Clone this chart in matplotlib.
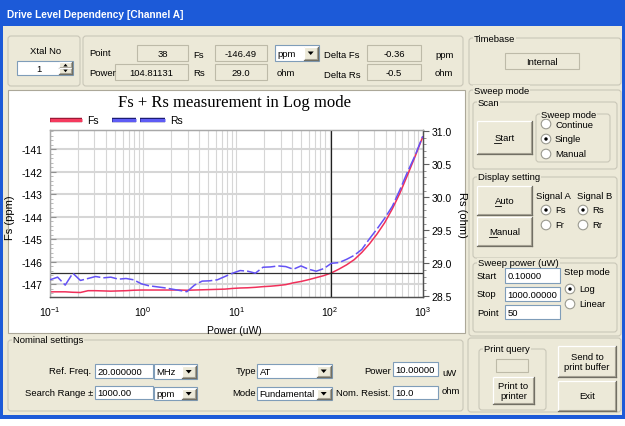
import matplotlib
matplotlib.use("Agg")
import matplotlib.pyplot as plt
import matplotlib.patheffects as pe
import numpy as np
from matplotlib.patches import Circle, FancyBboxPatch, Polygon, Rectangle
from matplotlib.ticker import FormatStrFormatter, LogLocator, MultipleLocator, NullFormatter

plt.rcParams['font.family'] = ['Liberation Sans', 'DejaVu Sans']
plt.rcParams['axes.unicode_minus'] = False
plt.rcParams['mathtext.fontset'] = 'custom'
plt.rcParams['mathtext.rm'] = 'Liberation Sans'
plt.rcParams['mathtext.it'] = 'Liberation Sans:italic'
plt.rcParams['mathtext.default'] = 'regular'

# --- sweep settings (Sweep power panel) ---
SWEEP_START = 0.1
SWEEP_STOP = 1000.0
SWEEP_POINTS = 50

# --- measured series, one value per sweep point ---
fs_ppm = [
    -147.33, -147.33, -147.33, -147.35, -147.36, -147.28, -147.28, -147.29, -147.30, -147.29,
    -147.28, -147.26, -147.25, -147.25, -147.25, -147.25, -147.25, -147.25, -147.26, -147.25,
    -147.24, -147.23, -147.22, -147.21, -147.18, -147.16, -147.15, -147.13, -147.10, -147.08,
    -147.05, -147.01, -146.93, -146.87, -146.79, -146.70, -146.61, -146.49, -146.32, -146.13,
    -145.90, -145.58, -145.20, -144.76, -144.26, -143.65, -142.95, -142.15, -141.32, -140.45,
]
rs_ohm = [
    28.75, 28.79, 28.67, 28.85, 28.74, 28.77, 28.80, 28.78, 28.79, 28.76,
    28.77, 28.75, 28.69, 28.66, 28.645, 28.63, 28.61, 28.59, 28.57, 28.67,
    28.73, 28.735, 28.75, 28.80, 28.85, 28.89, 28.88, 28.85, 28.94, 28.945,
    28.96, 28.95, 28.91, 28.96, 28.91, 28.88, 28.92, 29.00, 29.01, 29.06,
    29.12, 29.21, 29.37, 29.52, 29.68, 29.86, 30.11, 30.38, 30.63, 30.92,
]
power_uw = np.logspace(np.log10(SWEEP_START), np.log10(SWEEP_STOP), SWEEP_POINTS)

# cursor readout
cursor_point = 38
cursor_power = 104.81131
cursor_fs = -146.49
cursor_rs = 29.0
delta_fs = -0.36
delta_rs = -0.5

fs_ticks = [-141, -142, -143, -144, -145, -146, -147]
rs_ticks = [28.5, 29.0, 29.5, 30.0, 30.5, 31.0]
power_ticks = [0.1, 1, 10, 100, 1000]
power_ticklabels = ['$10^{-1}$', '$10^{0}$', '$10^{1}$', '$10^{2}$', '$10^{3}$']

# --- colours / sizes ---
BG = '#ECE9D8'
ETCH = '#C9C7B8'
FIELD_EDGE = '#7F9DB9'
READ_EDGE = '#BDBAA8'
DARK = '#716F64'
SHADE = '#ACA899'
FS = 6.8
W, H = 625, 427

fig = plt.figure(figsize=(6.25, 4.27), dpi=100)
ui = fig.add_axes([0, 0, 1, 1])
ui.axis('off')
renderer = fig.canvas.get_renderer()


def text_width(s, size=FS):
    t = ui.text(0, 0, s, fontsize=size)
    w = t.get_window_extent(renderer).width
    t.remove()
    return w


def label(x, y, s, ha='left'):
    ui.text(x, y, s, ha=ha, va='center', fontsize=FS)


def group(x0, y0, x1, y1, title=None):
    ui.add_patch(FancyBboxPatch((x0, y0), x1 - x0, y1 - y0,
                                boxstyle='round,pad=0,rounding_size=3',
                                fc='none', ec=ETCH, lw=0.8))
    if title:
        ui.text(x0 + 5, y0, title, ha='left', va='center', fontsize=FS,
                bbox=dict(fc=BG, ec='none', pad=0.6))


def field(x0, y0, x1, y1, s='', ha='left', fc='white', ec=FIELD_EDGE):
    ui.add_patch(Rectangle((x0, y0), x1 - x0, y1 - y0, fc=fc, ec=ec, lw=0.8))
    tx = {'left': x0 + 2.5, 'center': (x0 + x1) / 2, 'right': x1 - 3}[ha]
    ui.text(tx, (y0 + y1) / 2 + 0.5, s, ha=ha, va='center', fontsize=FS)


def readout(x0, y0, x1, y1, s):
    field(x0, y0, x1, y1, s, ha='center', fc=BG, ec=READ_EDGE)


def bevel(x0, y0, x1, y1):
    ui.add_patch(Rectangle((x0, y0), x1 - x0, y1 - y0, fc=BG, ec='none'))
    ui.plot([x0, x1], [y0, y0], color='white', lw=0.9, solid_capstyle='butt')
    ui.plot([x0, x0], [y0, y1], color='white', lw=0.9, solid_capstyle='butt')
    ui.plot([x0 + 1, x1 - 1], [y1 - 1, y1 - 1], color=SHADE, lw=0.8)
    ui.plot([x1 - 1, x1 - 1], [y0 + 1, y1 - 1], color=SHADE, lw=0.8)
    ui.plot([x0, x1], [y1, y1], color=DARK, lw=0.9)
    ui.plot([x1, x1], [y0, y1], color=DARK, lw=0.9)


def button(x0, y0, x1, y1, s, underline=False):
    bevel(x0, y0, x1, y1)
    cx, cy = (x0 + x1) / 2, (y0 + y1) / 2
    ui.text(cx, cy, s, ha='center', va='center', fontsize=FS, linespacing=1.25,
            multialignment='center')
    if underline:
        w = text_width(s)
        w1 = text_width(s[0])
        ui.plot([cx - w / 2, cx - w / 2 + w1], [cy + 5, cy + 5], color='black', lw=0.6)


def arrow(cx, cy, up=False, size=3.0):
    d = -1 if up else 1
    ui.add_patch(Polygon([[cx - size, cy - d * 1.5], [cx + size, cy - d * 1.5],
                          [cx, cy + d * (size - 1.0)]], closed=True, fc='black', ec='none'))


def dropdown(x0, y0, x1, y1, s):
    field(x0, y0, x1, y1, s)
    bevel(x1 - 15, y0 + 1.5, x1 - 1.5, y1 - 1.5)
    arrow(x1 - 8.3, (y0 + y1) / 2)


def radio(x, y, s, on=False):
    ui.add_patch(Circle((x, y), 4.8, fc='white', ec='#9A9A90', lw=0.8))
    if on:
        ui.add_patch(Circle((x, y), 1.7, fc='black', ec='none'))
    ui.text(x + 9, y, s, ha='left', va='center', fontsize=FS)


# --- window frame ---
ui.add_patch(Rectangle((0, 0), W, H, fc='white', ec='none'))
ui.add_patch(Rectangle((0, 0), W, 420, fc='#1C5AD8', ec='none'))
ui.add_patch(Rectangle((3, 27), W - 6, 389, fc=BG, ec='none'))
grad = np.linspace(0, 1, 28)[:, None, None]
top_c = np.array([0.36, 0.62, 0.98])
bot_c = np.array([0.05, 0.33, 0.86])
bar = np.clip(top_c + (bot_c - top_c) * np.sqrt(grad), 0, 1) * np.ones((1, 4, 1))
ui.imshow(bar, extent=(0, W, 27, 0), aspect='auto', interpolation='bilinear', zorder=0.5)
ui.text(7, 15, 'Drive Level Dependency [Channel A]', color='white', fontweight='bold',
        fontsize=7.3, ha='left', va='center')

# --- top readouts ---
group(8, 37, 80, 87)
label(46, 51, 'Xtal No', ha='center')
field(17, 62, 73, 76, '')
ui.text(39, 69.5, '1', ha='center', va='center', fontsize=FS)
bevel(59, 63, 72, 69)
bevel(59, 69, 72, 75)
arrow(65.5, 66, up=True, size=2.2)
arrow(65.5, 72, size=2.2)

group(83, 37, 463, 87)
label(89, 54, 'Point')
readout(137, 46, 188, 62, f'{cursor_point}')
label(193, 55, 'Fs')
readout(215, 46, 267, 62, f'{cursor_fs:.2f}')
dropdown(275, 46, 319, 62, 'ppm')
label(324, 55, 'Delta Fs')
readout(367, 46, 421, 62, f'{delta_fs:.2f}')
label(435, 56, 'ppm')
label(89, 73, 'Power')
readout(115, 65, 188, 81, f'{cursor_power:.5f}')
label(193, 74, 'Rs')
readout(215, 65, 267, 81, f'{cursor_rs:.1f}')
label(277, 73, 'ohm')
label(324, 75, 'Delta Rs')
readout(367, 65, 421, 81, f'{delta_rs:.1f}')
label(435, 74, 'ohm')

# --- chart panel ---
ui.add_patch(Rectangle((8, 91), 457, 243, fc='white', ec=SHADE, lw=0.8))
ui.text(235, 103, 'Fs + Rs measurement in Log mode', family='Liberation Serif',
        fontsize=12, ha='center', va='center')
ui.plot([50, 82], [121, 121], color='#F53A5E', lw=2.2, solid_capstyle='butt',
        path_effects=[pe.Stroke(linewidth=3.2, foreground='#9A1834'), pe.Normal()])
ui.text(87, 121, 'Fs', ha='left', va='center', fontsize=7.5)
for xa, xb in [(112, 136), (140, 165)]:
    ui.plot([xa, xb], [121, 121], color='#5E5CF5', lw=2.2, solid_capstyle='butt',
            path_effects=[pe.Stroke(linewidth=3.2, foreground='#1A1A70'), pe.Normal()])
ui.text(170, 121, 'Rs', ha='left', va='center', fontsize=7.5)

# --- right column ---
group(469, 39, 621, 86, 'Timebase')
readout(505, 54, 579, 70, 'Internal')
group(469, 91, 621, 337, 'Sweep mode')
group(473, 103, 617, 170, 'Scan')
button(477, 122, 532, 155, 'Start', underline=True)
group(536, 115, 610, 163, 'Sweep mode')
radio(546, 125, 'Continue')
radio(546, 140, 'Single', on=True)
radio(546, 155, 'Manual')
group(473, 178, 617, 259, 'Display setting')
button(477, 187, 532, 216, 'Auto', underline=True)
button(477, 218, 532, 247, 'Manual', underline=True)
label(536, 197, 'Signal A')
label(577, 197, 'Signal B')
radio(546, 211, 'Fs', on=True)
radio(583, 211, 'Rs', on=True)
radio(546, 226, 'Fr')
radio(583, 226, 'Rr')
group(473, 264, 617, 333, 'Sweep power (uW)')
label(477, 277, 'Start')
field(505, 269, 560, 284, f'{SWEEP_START:.5f}')
label(477, 295, 'Stop')
field(505, 288, 560, 302, f'{SWEEP_STOP:.5f}')
label(477, 314, 'Point')
field(505, 306, 560, 320, f'{SWEEP_POINTS}')
label(564, 273, 'Step mode')
radio(570, 290, 'Log', on=True)
radio(570, 305, 'Linear')

# --- nominal settings ---
group(8, 341, 463, 412, 'Nominal settings')
label(91, 372, 'Ref. Freq.', ha='right')
field(95, 365, 153, 379, '20.000000')
dropdown(154, 365, 197, 380, 'MHz')
label(93, 394, 'Search Range \u00b1', ha='right')
field(95, 387, 153, 400, '1000.00')
dropdown(154, 388, 197, 401, 'ppm')
label(256, 372, 'Type', ha='right')
dropdown(257, 365, 332, 379, 'AT')
label(256, 394, 'Mode', ha='right')
dropdown(257, 388, 332, 401, 'Fundamental')
label(391, 372, 'Power', ha='right')
field(393, 363, 438, 377, '10.00000')
label(442, 374, 'uW')
label(391, 394, 'Nom. Resist.', ha='right')
field(393, 387, 438, 400, '10.0')
label(442, 392, 'ohm')

group(468, 339, 621, 413)
group(479, 350, 546, 411, 'Print query')
readout(496, 360, 528, 373, '')
button(493, 378, 534, 405, 'Print to\nprinter')
button(558, 347, 616, 378, 'Send to\nprint buffer')
button(558, 382, 616, 412, 'Exit')

ui.set_xlim(0, W)
ui.set_ylim(H, 0)

# --- chart axes ---
x0, x1, y0, y1 = 50, 422.7, 130.7, 298
ax = fig.add_axes([x0 / W, (H - y1) / H, (x1 - x0) / W, (y1 - y0) / H])
ax.set_facecolor('white')
ax.set_xscale('log')
ax.set_xlim(SWEEP_START, SWEEP_STOP)
ax.set_ylim(-147.56, -140.13)
ax.xaxis.set_major_locator(LogLocator(base=10))
ax.xaxis.set_minor_locator(LogLocator(base=10, subs=np.arange(2, 10)))
ax.xaxis.set_minor_formatter(NullFormatter())
ax.set_xticks(power_ticks, power_ticklabels)
ax.set_yticks(fs_ticks, [str(v) for v in fs_ticks])
ax.yaxis.set_minor_locator(MultipleLocator(0.2))
ax.grid(True, which='major', axis='y', color='#D6D6D6', lw=1.5)
ax.grid(True, which='both', axis='x', color='#D6D6D6', lw=0.8)
ax.set_axisbelow(True)
ax.tick_params(axis='x', which='both', length=0, pad=5, labelsize=7.5)
ax.tick_params(axis='y', which='major', direction='in', length=4, color='#909090',
               pad=5.5, labelsize=7.5)
ax.tick_params(axis='y', which='minor', direction='in', length=2.5, color='#B0B0B0')
ax.plot(power_uw, fs_ppm, color='#F0305A', lw=1.1, zorder=3)
ax.axhline(cursor_fs, color='#303030', lw=0.9, zorder=4)
ax.axvline(cursor_power, color='#202020', lw=0.9, zorder=4)
ax.set_xlabel('Power (uW)', fontsize=7.5, labelpad=0)
ax.xaxis.set_label_coords(0.496, -0.168)
ax.set_ylabel('Fs (ppm)', fontsize=8)
ax.yaxis.set_label_coords(-0.094, 0.478)

ax2 = ax.twinx()
ax2.set_ylim(28.49, 31.02)
ax2.set_yticks(rs_ticks)
ax2.yaxis.set_major_formatter(FormatStrFormatter('%.1f'))
ax2.yaxis.set_minor_locator(MultipleLocator(0.1))
ax2.tick_params(axis='y', which='major', direction='out', length=4, color='#606060',
                pad=2.5, labelsize=7.5)
ax2.tick_params(axis='y', which='minor', direction='out', length=2.5, color='#808080')
ax2.plot(power_uw, rs_ohm, color='#6452F5', lw=1.1, linestyle=(0, (9, 2)), zorder=3)
ax2.set_ylabel('Rs (ohm)', fontsize=8, rotation=270, va='bottom')
ax2.yaxis.set_label_coords(1.092, 0.496)

for a in (ax, ax2):
    a.spines['left'].set_color('#A8A8A8')
    a.spines['top'].set_color('#A8A8A8')
    a.spines['bottom'].set_color('#505050')
    a.spines['right'].set_color('#505050')
    for s in a.spines.values():
        s.set_linewidth(0.9)

fig.savefig('out.png', dpi=100)
